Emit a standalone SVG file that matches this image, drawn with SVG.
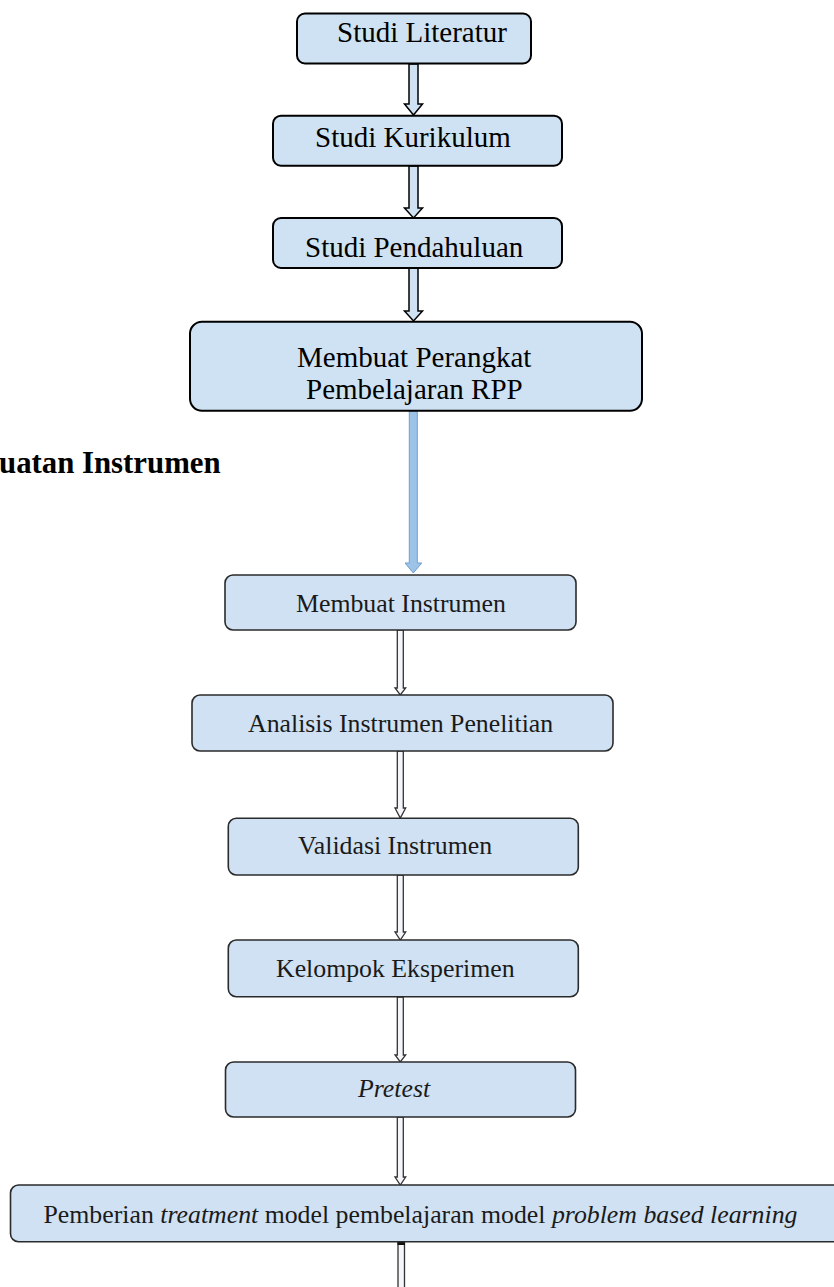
<svg xmlns="http://www.w3.org/2000/svg" width="834" height="1287" viewBox="0 0 834 1287">
<style>
  .top { fill:#cfe2f3; stroke:#000; stroke-width:2; }
  .low { fill:#cfe1f2; stroke:#2b2b2b; stroke-width:1.6; }
  .t1 { font-family:"Liberation Serif","Times New Roman",serif; font-size:29px; fill:#000; }
  .t2 { font-family:"Liberation Serif","Times New Roman",serif; font-size:25.8px; fill:#1a1a1a; }
  .it { font-style:italic; }
  .head { font-family:"Liberation Serif","Times New Roman",serif; font-size:30.8px; font-weight:bold; fill:#000; }
  .a1 { fill:#cfe2f3; stroke:#000; stroke-width:1.5; stroke-linejoin:miter; }
  .a2 { fill:#f4f6f9; stroke:#333; stroke-width:1.3; }
  .ab { fill:#9dc3e6; stroke:#6b9fd6; stroke-width:1; }
</style>
<rect width="834" height="1287" fill="#fff"/>

<text class="head" x="-1" y="473">uatan Instrumen</text>

<g id="connectors">
  <path class="a1" d="M409,64 V104 H404.5 L413.5,115 L422.5,104 H418 V64 Z"/>
  <path class="a1" d="M409,166 V208 H404.5 L413.5,218 L422.5,208 H418 V166 Z"/>
  <path class="a1" d="M409,268 V311 H404.5 L413.5,321 L422.5,311 H418 V268 Z"/>
  <path class="ab" d="M409.3,411 V563 H405 L413.3,573 L421.7,563 H417.3 V411 Z"/>
  <path class="a2" d="M397.3,630 V688 H395 L400.3,695 L405.7,688 H403.3 V630 Z"/>
  <path class="a2" d="M397.3,751 V808 H395 L400.3,818 L405.7,808 H403.3 V751 Z"/>
  <path class="a2" d="M397.3,875 V932 H395 L400.3,940 L405.7,932 H403.3 V875 Z"/>
  <path class="a2" d="M397.3,997 V1055 H395 L400.3,1062 L405.7,1055 H403.3 V997 Z"/>
  <path class="a2" d="M397.3,1117 V1177 H395 L400.3,1185 L405.7,1177 H403.3 V1117 Z"/>
  <path class="a2" d="M398,1242 V1290 H404.5 V1242 Z"/>
  <rect x="397.5" y="1241" width="7.5" height="4" fill="#111"/>
</g>

<g id="n1">
  <rect class="top" x="297" y="13.5" width="234" height="50" rx="8"/>
  <text class="t1" x="337" y="41.7">Studi Literatur</text>
</g>
<g id="n2">
  <rect class="top" x="273" y="115.7" width="289" height="50" rx="8"/>
  <text class="t1" x="315" y="146.7">Studi Kurikulum</text>
</g>
<g id="n3">
  <rect class="top" x="273" y="218" width="289" height="50" rx="8"/>
  <text class="t1" x="305" y="257.3">Studi Pendahuluan</text>
</g>
<g id="n4">
  <rect class="top" x="190" y="321.7" width="452" height="89" rx="12"/>
  <text class="t1" x="297" y="366.7">Membuat Perangkat</text>
  <text class="t1" x="306" y="399.3">Pembelajaran RPP</text>
</g>

<g id="n5">
  <rect class="low" x="225" y="575" width="351" height="55" rx="8"/>
  <text class="t2" x="296" y="611.7">Membuat Instrumen</text>
</g>
<g id="n6">
  <rect class="low" x="192" y="695" width="421" height="56" rx="8"/>
  <text class="t2" x="248" y="731.7">Analisis Instrumen Penelitian</text>
</g>
<g id="n7">
  <rect class="low" x="228.3" y="818.3" width="350" height="56.7" rx="8"/>
  <text class="t2" x="298" y="853.5">Validasi Instrumen</text>
</g>
<g id="n8">
  <rect class="low" x="228.3" y="940" width="350" height="56.7" rx="8"/>
  <text class="t2" x="276" y="977">Kelompok Eksperimen</text>
</g>
<g id="n9">
  <rect class="low" x="225.5" y="1062" width="350" height="55" rx="8"/>
  <text class="t2 it" x="358" y="1097.3">Pretest</text>
</g>
<g id="n10">
  <rect class="low" x="10.5" y="1185" width="850" height="56.7" rx="8"/>
  <text class="t2" x="43.5" y="1222.5">Pemberian <tspan class="it">treatment</tspan> model pembelajaran model <tspan class="it">problem based learning</tspan></text>
</g>
</svg>
